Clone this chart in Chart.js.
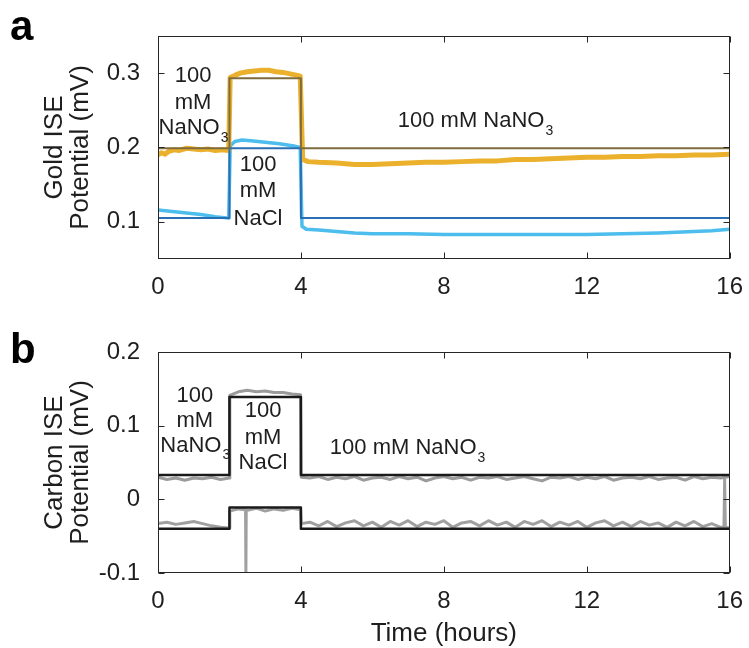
<!DOCTYPE html>
<html><head><meta charset="utf-8">
<script src="https://cdn.jsdelivr.net/npm/chart.js@4/dist/chart.umd.min.js"></script>
<style>
html,body{margin:0;padding:0;background:#fff;width:749px;height:648px;overflow:hidden}
canvas{position:absolute;left:0}
#ca{top:0;width:749px;height:300px}
#cb{top:300px;width:749px;height:348px}
</style></head><body>
<canvas id="ca" width="749" height="300"></canvas>
<canvas id="cb" width="749" height="348"></canvas>
<script>
// ---------- shared axis ticks ----------
const xTicks = [0, 4, 8, 12, 16];
const yTicksA = [0.1, 0.2, 0.3];
const yTicksB = [-0.1, 0, 0.1, 0.2];

// ---------- panel a : Gold ISE ----------
const fitT = [0, 2, 2, 4, 4, 16];
const goldFitV = [0.199, 0.199, 0.293, 0.293, 0.199, 0.199];
const blueFitV = [0.105, 0.105, 0.199, 0.199, 0.105, 0.105];

const goldT = [0, 0.1, 0.2, 0.3, 0.45, 0.6, 0.8, 1.0, 1.2, 1.4, 1.6, 1.8, 1.98,
  2.02, 2.15, 2.3, 2.5, 2.7, 2.9, 3.1, 3.3, 3.5, 3.7, 3.9, 3.98,
  4.05, 4.2, 4.5, 5, 5.5, 6, 6.5, 7, 7.5, 8, 8.5, 9, 9.5, 10, 10.5, 11, 11.5, 12, 12.5, 13, 13.5, 14, 14.5, 15, 15.5, 16];
const goldV = [0.190, 0.193, 0.191, 0.195, 0.197, 0.196, 0.199, 0.198, 0.197, 0.198, 0.196, 0.197, 0.196,
  0.294, 0.297, 0.300, 0.302, 0.303, 0.304, 0.304, 0.302, 0.301, 0.299, 0.297, 0.296,
  0.184, 0.181, 0.180, 0.179, 0.177, 0.177, 0.178, 0.179, 0.180, 0.180, 0.181, 0.182, 0.182, 0.184, 0.184, 0.185, 0.186, 0.187, 0.187, 0.188, 0.188, 0.189, 0.189, 0.190, 0.190, 0.191];

const blueT = [0, 0.4, 0.8, 1.2, 1.6, 1.98,
  2.02, 2.15, 2.35, 2.6, 3.0, 3.4, 3.8, 3.98,
  4.03, 4.15, 4.5, 5, 5.5, 6, 7, 8, 9, 10, 11, 12, 13, 14, 14.5, 15, 15.5, 16];
const blueV = [0.116, 0.114, 0.112, 0.110, 0.107, 0.105,
  0.202, 0.208, 0.210, 0.209, 0.207, 0.205, 0.202, 0.200,
  0.094, 0.090, 0.089, 0.087, 0.085, 0.084, 0.084, 0.083, 0.083, 0.083, 0.083, 0.083, 0.084, 0.085, 0.086, 0.087, 0.088, 0.090];

// ---------- panel b : Carbon ISE ----------
const bUpperFitV = [0.033, 0.033, 0.139, 0.139, 0.033, 0.033];
const bLowerFitV = [-0.040, -0.040, -0.011, -0.011, -0.040, -0.040];

const grayUpT = [0, 0.25, 0.5, 0.75, 1, 1.25, 1.5, 1.75, 1.99,
  2.01, 2.25, 2.5, 2.75, 3, 3.25, 3.5, 3.75, 3.99,
  4.01, 4.25, 4.5, 4.75, 5, 5.25, 5.5, 5.75, 6, 6.25, 6.5, 6.75, 7, 7.25, 7.5, 7.75, 8,
  8.25, 8.5, 8.75, 9, 9.25, 9.5, 9.75, 10, 10.25, 10.5, 10.75, 11, 11.25, 11.5, 11.75, 12,
  12.25, 12.5, 12.75, 13, 13.25, 13.5, 13.75, 14, 14.25, 14.5, 14.75, 15, 15.25, 15.5, 15.75, 16];
const grayUpV = [0.030, 0.027, 0.029, 0.026, 0.029, 0.028, 0.030, 0.027, 0.029,
  0.141, 0.146, 0.148, 0.146, 0.147, 0.145, 0.145, 0.143, 0.142,
  0.030, 0.029, 0.031, 0.027, 0.030, 0.028, 0.031, 0.026, 0.029, 0.030, 0.027, 0.031, 0.028,
  0.030, 0.025, 0.029, 0.031, 0.028, 0.030, 0.026, 0.030, 0.029, 0.031, 0.027, 0.029,
  0.031, 0.028, 0.025, 0.030, 0.029, 0.031, 0.027, 0.030, 0.028, 0.031, 0.026, 0.029,
  0.030, 0.028, 0.031, 0.027, 0.029, 0.030, 0.026, 0.031, 0.028, 0.030, 0.029, 0.031];

const grayLoT = [0, 0.25, 0.5, 0.75, 1, 1.25, 1.5, 1.75, 1.99,
  2.01, 2.25, 2.45, 2.46, 2.47, 2.5, 2.75, 3, 3.25, 3.5, 3.75, 3.99,
  4.01, 4.25, 4.5, 4.75, 5, 5.25, 5.5, 5.75, 6, 6.25, 6.5, 6.75, 7, 7.25, 7.5, 7.75, 8,
  8.25, 8.5, 8.75, 9, 9.25, 9.5, 9.75, 10, 10.25, 10.5, 10.75, 11, 11.25, 11.5, 11.75, 12,
  12.25, 12.5, 12.75, 13, 13.25, 13.5, 13.75, 14, 14.25, 14.5, 14.75, 15, 15.25, 15.5, 15.75,
  15.84, 15.86, 15.88, 16];
const grayLoV = [-0.033, -0.031, -0.034, -0.032, -0.030, -0.033, -0.036, -0.038, -0.039,
  -0.016, -0.013, -0.014, -0.100, -0.014, -0.015, -0.012, -0.016, -0.013, -0.015, -0.012, -0.014,
  -0.033, -0.031, -0.036, -0.030, -0.037, -0.032, -0.029, -0.036, -0.031, -0.038, -0.030, -0.035, -0.029,
  -0.037, -0.031, -0.034, -0.029, -0.038, -0.032, -0.030, -0.036, -0.029, -0.035, -0.031, -0.038,
  -0.030, -0.034, -0.029, -0.037, -0.031, -0.035, -0.030, -0.038, -0.032, -0.029, -0.036, -0.031,
  -0.037, -0.030, -0.035, -0.032, -0.038, -0.031, -0.036, -0.030, -0.037, -0.033, -0.038,
  -0.038, 0.027, -0.038, -0.039];

// ---------- helpers ----------
const FONT = '"Liberation Sans", Arial, Helvetica, sans-serif';
const TXT = '#1e1e1e';
const pts = (xs, ys) => xs.map((x, i) => ({x: x, y: ys[i]}));
const line = (data, color, width) => ({data: data, borderColor: color, backgroundColor: color,
  borderWidth: width, pointRadius: 0, fill: false, tension: 0, borderJoinStyle: 'round', borderCapStyle: 'round'});

const framePlugin = {
  id: 'frame',
  afterDraw(chart, args, opts) {
    const {ctx, chartArea: a, scales} = chart;
    const sx = scales.x, sy = scales.y;
    ctx.save();
    ctx.strokeStyle = '#262626';
    ctx.lineWidth = 1;
    const L = Math.round(a.left) + 0.5, T = Math.round(a.top) + 0.5;
    const R = Math.round(a.right) - 0.5, B = Math.round(a.bottom) - 0.5;
    ctx.strokeRect(L, T, R - L, B - T);
    ctx.beginPath();
    const tl = 6;
    sx.ticks.forEach(t => {
      const p = Math.round(sx.getPixelForValue(t.value)) + 0.5;
      ctx.moveTo(p, B); ctx.lineTo(p, B - tl);
      ctx.moveTo(p, T); ctx.lineTo(p, T + tl);
    });
    sy.ticks.forEach(t => {
      const p = Math.round(sy.getPixelForValue(t.value)) + 0.5;
      ctx.moveTo(L, p); ctx.lineTo(L + tl, p);
      ctx.moveTo(R, p); ctx.lineTo(R - tl, p);
    });
    ctx.stroke();
    // annotations
    ctx.fillStyle = TXT;
    ctx.textBaseline = 'middle';
    ctx.textAlign = 'left';
    (opts.notes || []).forEach(n => {
      const px = sx.getPixelForValue(n.x), py = sy.getPixelForValue(n.y);
      ctx.font = '22px ' + FONT;
      const w1 = ctx.measureText(n.text).width;
      ctx.font = '14px ' + FONT;
      const w2 = n.sub ? ctx.measureText(n.sub).width : 0;
      const start = n.align === 'center' ? px - (w1 + w2) / 2 : px;
      ctx.font = '22px ' + FONT;
      ctx.fillText(n.text, start, py);
      if (n.sub) { ctx.font = '14px ' + FONT; ctx.fillText(n.sub, start + w1 + 1, py + 10); }
    });
    if (opts.letter) {
      ctx.font = 'bold 42px ' + FONT;
      ctx.textBaseline = 'alphabetic';
      ctx.fillStyle = '#000';
      ctx.fillText(opts.letter, 10, opts.letterY);
    }
    ctx.restore();
  }
};

function makeOptions(c) {
  return {
    responsive: false, animation: false, events: [],
    layout: {padding: {top: c.padTop, right: 17, left: 0, bottom: 0}},
    plugins: {legend: {display: false}, tooltip: {enabled: false},
      frame: {notes: c.notes, letter: c.letter, letterY: c.letterY}},
    scales: {
      x: {type: 'linear', min: 0, max: 16,
        afterBuildTicks: s => { s.ticks = xTicks.map(v => ({value: v})); },
        grid: {display: false}, border: {display: false},
        ticks: {padding: 6, color: TXT, font: {family: FONT, size: 24}, maxRotation: 0, callback: v => String(v)},
        title: c.xTitle ? {display: true, text: c.xTitle, color: TXT, font: {family: FONT, size: 26, lineHeight: 1}, padding: {top: 0, bottom: 1}} : {display: false},
        afterFit: s => { s.height = c.xHeight; }},
      y: {type: 'linear', min: c.yMin, max: c.yMax,
        afterBuildTicks: s => { s.ticks = c.yTicks.map(v => ({value: v})); },
        grid: {display: false}, border: {display: false},
        ticks: {padding: 10, color: TXT, font: {family: FONT, size: 24}, callback: v => String(v)},
        title: {display: true, text: c.yTitle, color: TXT, font: {family: FONT, size: 26, lineHeight: 1}, padding: {top: 42, bottom: 0}},
        afterFit: s => { s.width = 158; }}
    }
  };
}

new Chart(document.getElementById('ca'), {
  type: 'line',
  data: {datasets: [
    line(pts(fitT, goldFitV), '#7f6c3e', 2),
    line(pts(fitT, blueFitV), '#2a6fb3', 2),
    line(pts(goldT, goldV), '#ebb02c', 5),
    line(pts(blueT, blueV), '#4cbdec', 3.5)
  ]},
  options: makeOptions({padTop: 36, xHeight: 41, yMin: 0.05, yMax: 0.35, yTicks: yTicksA,
    yTitle: ['Gold ISE', 'Potential (mV)'], letter: 'a', letterY: 40,
    notes: [
      {x: 0.98, y: 0.296, text: '100', align: 'center'},
      {x: 0.98, y: 0.260, text: 'mM', align: 'center'},
      {x: 0.98, y: 0.226, text: 'NaNO', sub: '3', align: 'center'},
      {x: 2.8, y: 0.176, text: '100', align: 'center'},
      {x: 2.8, y: 0.141, text: 'mM', align: 'center'},
      {x: 2.8, y: 0.104, text: 'NaCl', align: 'center'},
      {x: 6.71, y: 0.236, text: '100 mM NaNO', sub: '3', align: 'left'}
    ]})
  , plugins: [framePlugin]
});

new Chart(document.getElementById('cb'), {
  type: 'line',
  data: {datasets: [
    line(pts(fitT, bUpperFitV), '#1a1a1a', 2.5),
    line(pts(fitT, bLowerFitV), '#1a1a1a', 2.5),
    line(pts(grayUpT, grayUpV), '#9b9b9b', 3),
    line(pts(grayLoT, grayLoV), '#a0a0a0', 3)
  ]},
  options: makeOptions({padTop: 52, xHeight: 75, yMin: -0.1, yMax: 0.2, yTicks: yTicksB,
    yTitle: ['Carbon ISE', 'Potential (mV)'], xTitle: 'Time (hours)', letter: 'b', letterY: 63,
    notes: [
      {x: 1.03, y: 0.1405, text: '100', align: 'center'},
      {x: 1.03, y: 0.107, text: 'mM', align: 'center'},
      {x: 1.03, y: 0.073, text: 'NaNO', sub: '3', align: 'center'},
      {x: 2.94, y: 0.120, text: '100', align: 'center'},
      {x: 2.94, y: 0.084, text: 'mM', align: 'center'},
      {x: 2.94, y: 0.049, text: 'NaCl', align: 'center'},
      {x: 4.81, y: 0.070, text: '100 mM NaNO', sub: '3', align: 'left'}
    ]})
  , plugins: [framePlugin]
});
</script>
</body></html>
